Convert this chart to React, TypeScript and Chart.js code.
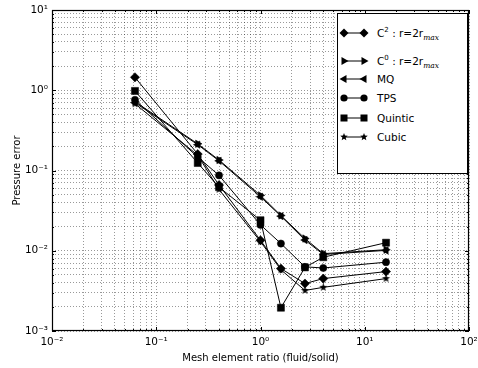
import React, { useEffect, useRef } from "react";
import { Chart, registerables } from "chart.js";
Chart.register(...registerables);

// ---- data ----
const meshRatio = [0.0625, 0.25, 0.4, 1, 1.57, 2.67, 4, 16];
const c2Error = [1.45, 0.16, 0.066, 0.0135, 0.006, 0.0039, 0.0045, 0.0055];
const c0Error = [0.72, 0.215, 0.135, 0.049, 0.0275, 0.0142, 0.0092, 0.0103];
const mqError = [0.7, 0.21, 0.132, 0.047, 0.027, 0.0136, 0.009, 0.0101];
const tpsError = [0.76, 0.147, 0.087, 0.021, 0.0123, 0.0063, 0.0061, 0.0072];
const quinticError = [0.98, 0.124, 0.062, 0.024, 0.00195, 0.0062, 0.0083, 0.0126];
const cubicError = [0.68, 0.155, 0.058, 0.013, 0.0058, 0.0032, 0.0035, 0.0045];
const seriesNames = ["C2 : r=2rmax", "C0 : r=2rmax", "MQ", "TPS", "Quintic", "Cubic"];
const xTickLabels = ["10\u207B\u00B2", "10\u207B\u00B9", "10\u2070", "10\u00B9", "10\u00B2"];
const yTickLabels = ["10\u207B\u00B3", "10\u207B\u00B2", "10\u207B\u00B9", "10\u2070", "10\u00B9"];
const xRange = [0.01, 100];
const yRange = [0.001, 10];
const xTitle = "Mesh element ratio (fluid/solid)";
const yTitle = "Pressure error";

const FONT = "'DejaVu Sans', sans-serif";

function logTicks(min: number, max: number) {
  const out: any[] = [];
  const e0 = Math.round(Math.log10(min));
  const e1 = Math.round(Math.log10(max));
  for (let e = e0; e < e1; e++) {
    for (let m = 1; m < 10; m++) {
      out.push({ value: Number((m * Math.pow(10, e)).toPrecision(6)), major: m === 1 });
    }
  }
  out.push({ value: max, major: true });
  return out;
}

function makeStar(r: number) {
  const c = document.createElement("canvas");
  const s = Math.ceil(r * 2 + 2);
  c.width = s;
  c.height = s;
  const ctx = c.getContext("2d")!;
  ctx.fillStyle = "#000";
  ctx.beginPath();
  for (let i = 0; i < 10; i++) {
    const a = -Math.PI / 2 + (i * Math.PI) / 5;
    const rr = i % 2 ? r * 0.42 : r;
    ctx.lineTo(s / 2 + rr * Math.cos(a), s / 2 + rr * Math.sin(a));
  }
  ctx.closePath();
  ctx.fill();
  return c;
}

const framePlugin = {
  id: "frame",
  afterDatasetsDraw(chart: any) {
    const { ctx, chartArea: a, scales } = chart;
    ctx.save();
    ctx.strokeStyle = "#000";
    ctx.lineWidth = 1;
    ctx.beginPath();
    const xs = scales.x, ys = scales.y;
    for (const t of logTicks(xRange[0], xRange[1])) {
      const px = Math.round(xs.getPixelForValue(t.value)) + 0.5;
      const len = t.major ? 4 : 2;
      ctx.moveTo(px, a.bottom);
      ctx.lineTo(px, a.bottom - len);
      ctx.moveTo(px, a.top);
      ctx.lineTo(px, a.top + len);
    }
    for (const t of logTicks(yRange[0], yRange[1])) {
      const py = Math.round(ys.getPixelForValue(t.value)) + 0.5;
      const len = t.major ? 4 : 2;
      ctx.moveTo(a.left, py);
      ctx.lineTo(a.left + len, py);
      ctx.moveTo(a.right, py);
      ctx.lineTo(a.right - len, py);
    }
    ctx.stroke();
    ctx.lineWidth = 1.2;
    ctx.strokeRect(a.left + 0.5, a.top + 0.5, a.right - a.left - 1, a.bottom - a.top - 1);
    ctx.restore();
  },
};

function Marker({ kind, cx, cy }: { kind: string; cx: number; cy: number }) {
  if (kind === "diamond")
    return <polygon points={`${cx},${cy - 4.5} ${cx + 4.5},${cy} ${cx},${cy + 4.5} ${cx - 4.5},${cy}`} fill="#000" />;
  if (kind === "right")
    return <polygon points={`${cx + 4.5},${cy} ${cx - 2.5},${cy - 4} ${cx - 2.5},${cy + 4}`} fill="#000" />;
  if (kind === "left")
    return <polygon points={`${cx - 4.5},${cy} ${cx + 2.5},${cy - 4} ${cx + 2.5},${cy + 4}`} fill="#000" />;
  if (kind === "circle") return <circle cx={cx} cy={cy} r={3.6} fill="#000" />;
  if (kind === "square") return <rect x={cx - 3.5} y={cy - 3.5} width={7} height={7} fill="#000" />;
  const pts: string[] = [];
  for (let i = 0; i < 10; i++) {
    const a = -Math.PI / 2 + (i * Math.PI) / 5;
    const rr = i % 2 ? 1.7 : 4;
    pts.push(`${(cx + rr * Math.cos(a)).toFixed(2)},${(cy + rr * Math.sin(a)).toFixed(2)}`);
  }
  return <polygon points={pts.join(" ")} fill="#000" />;
}

const legendKinds = ["diamond", "right", "left", "circle", "square", "star"];
const legendRowY = [20, 48, 66, 85, 105, 124];

function LegendLabel({ i }: { i: number }) {
  const name = seriesNames[i];
  if (i === 0 || i === 1) {
    return (
      <span>
        C<sup style={{ fontSize: "7px", verticalAlign: "5px", lineHeight: 0 }}>{name[1]}</sup> : r=2r
        <sub style={{ fontSize: "7.5px", fontStyle: "italic", fontFamily: "'DejaVu Serif', serif", verticalAlign: "-3px", lineHeight: 0 }}>
          max
        </sub>
      </span>
    );
  }
  return <span>{name}</span>;
}

export default function App() {
  const ref = useRef<HTMLCanvasElement>(null);
  useEffect(() => {
    const star = makeStar(4.2);
    const styles: any[] = [
      { pointStyle: "rectRot", pointRadius: 4.6, pointRotation: 0 },
      { pointStyle: "triangle", pointRadius: 4.3, pointRotation: 90 },
      { pointStyle: "triangle", pointRadius: 4.3, pointRotation: -90 },
      { pointStyle: "circle", pointRadius: 3.6, pointRotation: 0 },
      { pointStyle: "rect", pointRadius: 5, pointRotation: 0 },
      { pointStyle: star, pointRadius: 4, pointRotation: 0 },
    ];
    const series = [c2Error, c0Error, mqError, tpsError, quinticError, cubicError];
    const datasets = series.map((vals, i) => ({
      label: seriesNames[i],
      data: vals.map((v, j) => ({ x: meshRatio[j], y: v })),
      borderColor: "#000",
      backgroundColor: "#000",
      borderWidth: 1,
      pointBackgroundColor: "#000",
      pointBorderColor: "#000",
      pointBorderWidth: 0.5,
      tension: 0,
      ...styles[i],
    }));
    const labelFor = (labels: string[], lo: number) => (value: any) => {
      const l = Math.log10(value);
      const r = Math.round(l);
      if (Math.abs(l - r) < 1e-6) return labels[r - lo];
      return "";
    };
    const chart = new Chart(ref.current!, {
      type: "line",
      data: { datasets },
      plugins: [framePlugin],
      options: {
        animation: false,
        responsive: false,
        layout: { padding: { top: 10, right: 9, left: 0, bottom: 0 } },
        plugins: { legend: { display: false }, tooltip: { enabled: false } },
        scales: {
          x: {
            type: "logarithmic",
            min: xRange[0],
            max: xRange[1],
            afterBuildTicks: (s: any) => {
              s.ticks = logTicks(xRange[0], xRange[1]);
            },
            afterFit: (s: any) => {
              s.height = 37;
              s.paddingLeft = 0;
              s.paddingRight = 0;
            },
            ticks: {
              autoSkip: false,
              maxRotation: 0,
              minRotation: 0,
              padding: 5,
              color: "#000",
              font: { family: FONT, size: 10.5 },
              callback: labelFor(xTickLabels, -2),
            },
            grid: { color: "rgba(0,0,0,0.4)", lineWidth: 1, drawTicks: false },
            border: { display: false, dash: [1, 2] },
            title: {
              display: true,
              text: xTitle,
              color: "#000",
              font: { family: FONT, size: 10 },
              padding: { top: 0, bottom: 4 },
            },
          },
          y: {
            type: "logarithmic",
            min: yRange[0],
            max: yRange[1],
            afterBuildTicks: (s: any) => {
              s.ticks = logTicks(yRange[0], yRange[1]);
            },
            afterFit: (s: any) => {
              s.width = 52;
              s.paddingTop = 0;
              s.paddingBottom = 0;
            },
            ticks: {
              autoSkip: false,
              padding: 4,
              color: "#000",
              font: { family: FONT, size: 10.5 },
              callback: labelFor(yTickLabels, -3),
            },
            grid: { color: "rgba(0,0,0,0.4)", lineWidth: 1, drawTicks: false },
            border: { display: false, dash: [1, 2] },
            title: {
              display: true,
              text: yTitle,
              color: "#000",
              font: { family: FONT, size: 10 },
              padding: { top: 11, bottom: 0 },
            },
          },
        },
      } as any,
    });
    return () => chart.destroy();
  }, []);

  return (
    <div style={{ position: "fixed", left: 0, top: 0, width: 478, height: 368, background: "#fff" }}>
      <canvas ref={ref} width={478} height={368} style={{ width: 478, height: 368, display: "block" }} />
      <div
        style={{
          position: "absolute",
          left: 337,
          top: 13,
          width: 131,
          height: 161,
          border: "1px solid #000",
          boxSizing: "border-box",
          background: "#fff",
          fontFamily: FONT,
          fontSize: "10.5px",
          color: "#000",
        }}
      >
        {legendKinds.map((k, i) => (
          <React.Fragment key={i}>
            <svg
              width={34}
              height={14}
              style={{ position: "absolute", left: 0, top: legendRowY[i] - 8, overflow: "visible" }}
            >
              <line x1={6} y1={7} x2={26} y2={7} stroke="#000" strokeWidth={1} />
              <Marker kind={k} cx={6} cy={7} />
              <Marker kind={k} cx={26} cy={7} />
            </svg>
            <div
              style={{
                position: "absolute",
                left: 39,
                top: legendRowY[i] - 8,
                height: 14,
                lineHeight: "14px",
                whiteSpace: "nowrap",
              }}
            >
              <LegendLabel i={i} />
            </div>
          </React.Fragment>
        ))}
      </div>
    </div>
  );
}
